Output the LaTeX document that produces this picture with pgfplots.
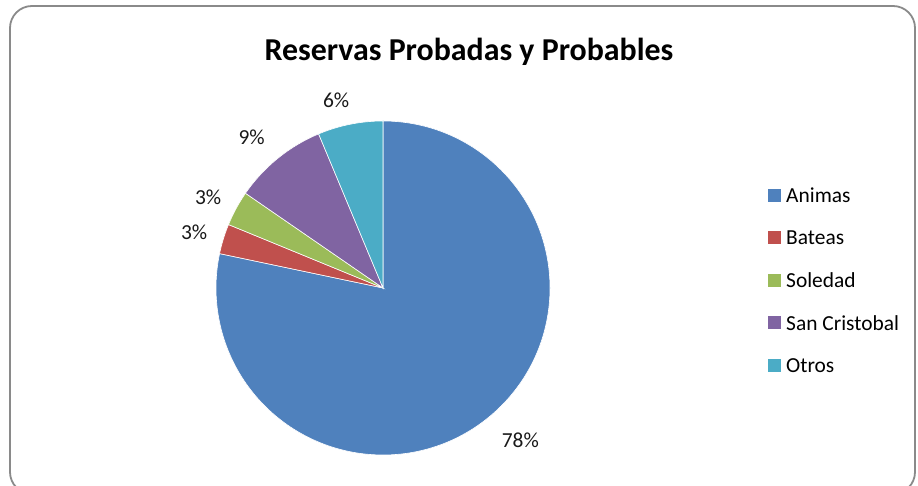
\documentclass[border=0pt]{standalone}
\usepackage{pgfplots}
\pgfplotsset{compat=1.18}
\usepackage{pgfplotstable}
\usetikzlibrary{calc}
\usepackage{fontspec}
\setmainfont{Carlito}
\definecolor{cAnimas}{HTML}{4F81BD}
\definecolor{cBateas}{HTML}{C0504D}
\definecolor{cSoledad}{HTML}{9BBB59}
\definecolor{cSanCristobal}{HTML}{8064A2}
\definecolor{cOtros}{HTML}{4BACC6}
\definecolor{frame}{HTML}{8A8A8A}

% share of reserves, percent
% labr / labda: where the percent label sits (radius, angle shift)
\pgfplotstableread[col sep=comma]{
name,share,col,labr,labda
Animas,78.3,cAnimas,205,3
Bateas,2.9,cBateas,197,0.6
Soledad,3.4,cSoledad,197,1
San Cristobal,9.1,cSanCristobal,200,2
Otros,6.3,cOtros,193,2.7
}\piedata

\begin{document}
\begin{tikzpicture}[x=1bp,y=1bp]
\useasboundingbox (0,0) rectangle (918,486);
\begin{scope}
\clip (0,0) rectangle (918,486);
\draw[frame, line width=1.8bp, rounded corners=22bp] (10,480) rectangle (915,-8);
\end{scope}
\node[font=\bfseries\fontsize{32}{36}\selectfont] at (469,434) {Reservas Probadas y Probables};

\begin{axis}[
    x=1bp, y=1bp,
    xmin=-167, xmax=167, ymin=-167, ymax=167,
    hide axis, clip=false,
    at={(216bp,31bp)}, anchor=south west,
    legend image code/.code={\fill[#1, draw=none] (0bp,-6.5bp) rectangle (13bp,6.5bp);},
    legend style={draw=none, fill=none, inner sep=0pt,
        at={(axis cs:385,100)}, anchor=north west,
        font=\fontsize{21.5}{24}\selectfont, row sep=28bp,
        nodes={inner sep=0pt, text depth=0pt},
        /tikz/every odd column/.append style={column sep=5bp}},
    legend cell align=left,
]
\pgfplotstablegetrowsof{\piedata}
\pgfmathtruncatemacro{\nrows}{\pgfplotsretval-1}
\def\angstart{90}
\foreach \i in {0,...,\nrows}{
    \pgfplotstablegetelem{\i}{share}\of{\piedata}\let\val\pgfplotsretval
    \pgfplotstablegetelem{\i}{col}\of{\piedata}\let\col\pgfplotsretval
    \pgfplotstablegetelem{\i}{labr}\of{\piedata}\let\labr\pgfplotsretval
    \pgfplotstablegetelem{\i}{labda}\of{\piedata}\let\labda\pgfplotsretval
    \pgfmathsetmacro{\angend}{\angstart-3.6*\val}
    \pgfmathsetmacro{\angmid}{(\angstart+\angend)/2+\labda}
    \pgfmathtruncatemacro{\pct}{round(\val)}
    \edef\temp{%
      \noexpand\fill[\col, draw=white, line width=0.6bp] (axis cs:0,0) -- ++(\angstart:167bp)
        arc[start angle=\angstart, end angle=\angend, radius=167bp] -- cycle;
      \noexpand\node[font=\noexpand\fontsize{21.5}{24}\noexpand\selectfont, text=black!90]
        at ($(axis cs:0,0)+(\angmid:\labr bp)$) {\pct\noexpand\%};
    }\temp
    \xdef\angstart{\angend}
}
\addlegendimage{fill=cAnimas}\addlegendentry{Animas}
\addlegendimage{fill=cBateas}\addlegendentry{Bateas}
\addlegendimage{fill=cSoledad}\addlegendentry{Soledad}
\addlegendimage{fill=cSanCristobal}\addlegendentry{San Cristobal}
\addlegendimage{fill=cOtros}\addlegendentry{Otros}
\end{axis}
\end{tikzpicture}
\end{document}
